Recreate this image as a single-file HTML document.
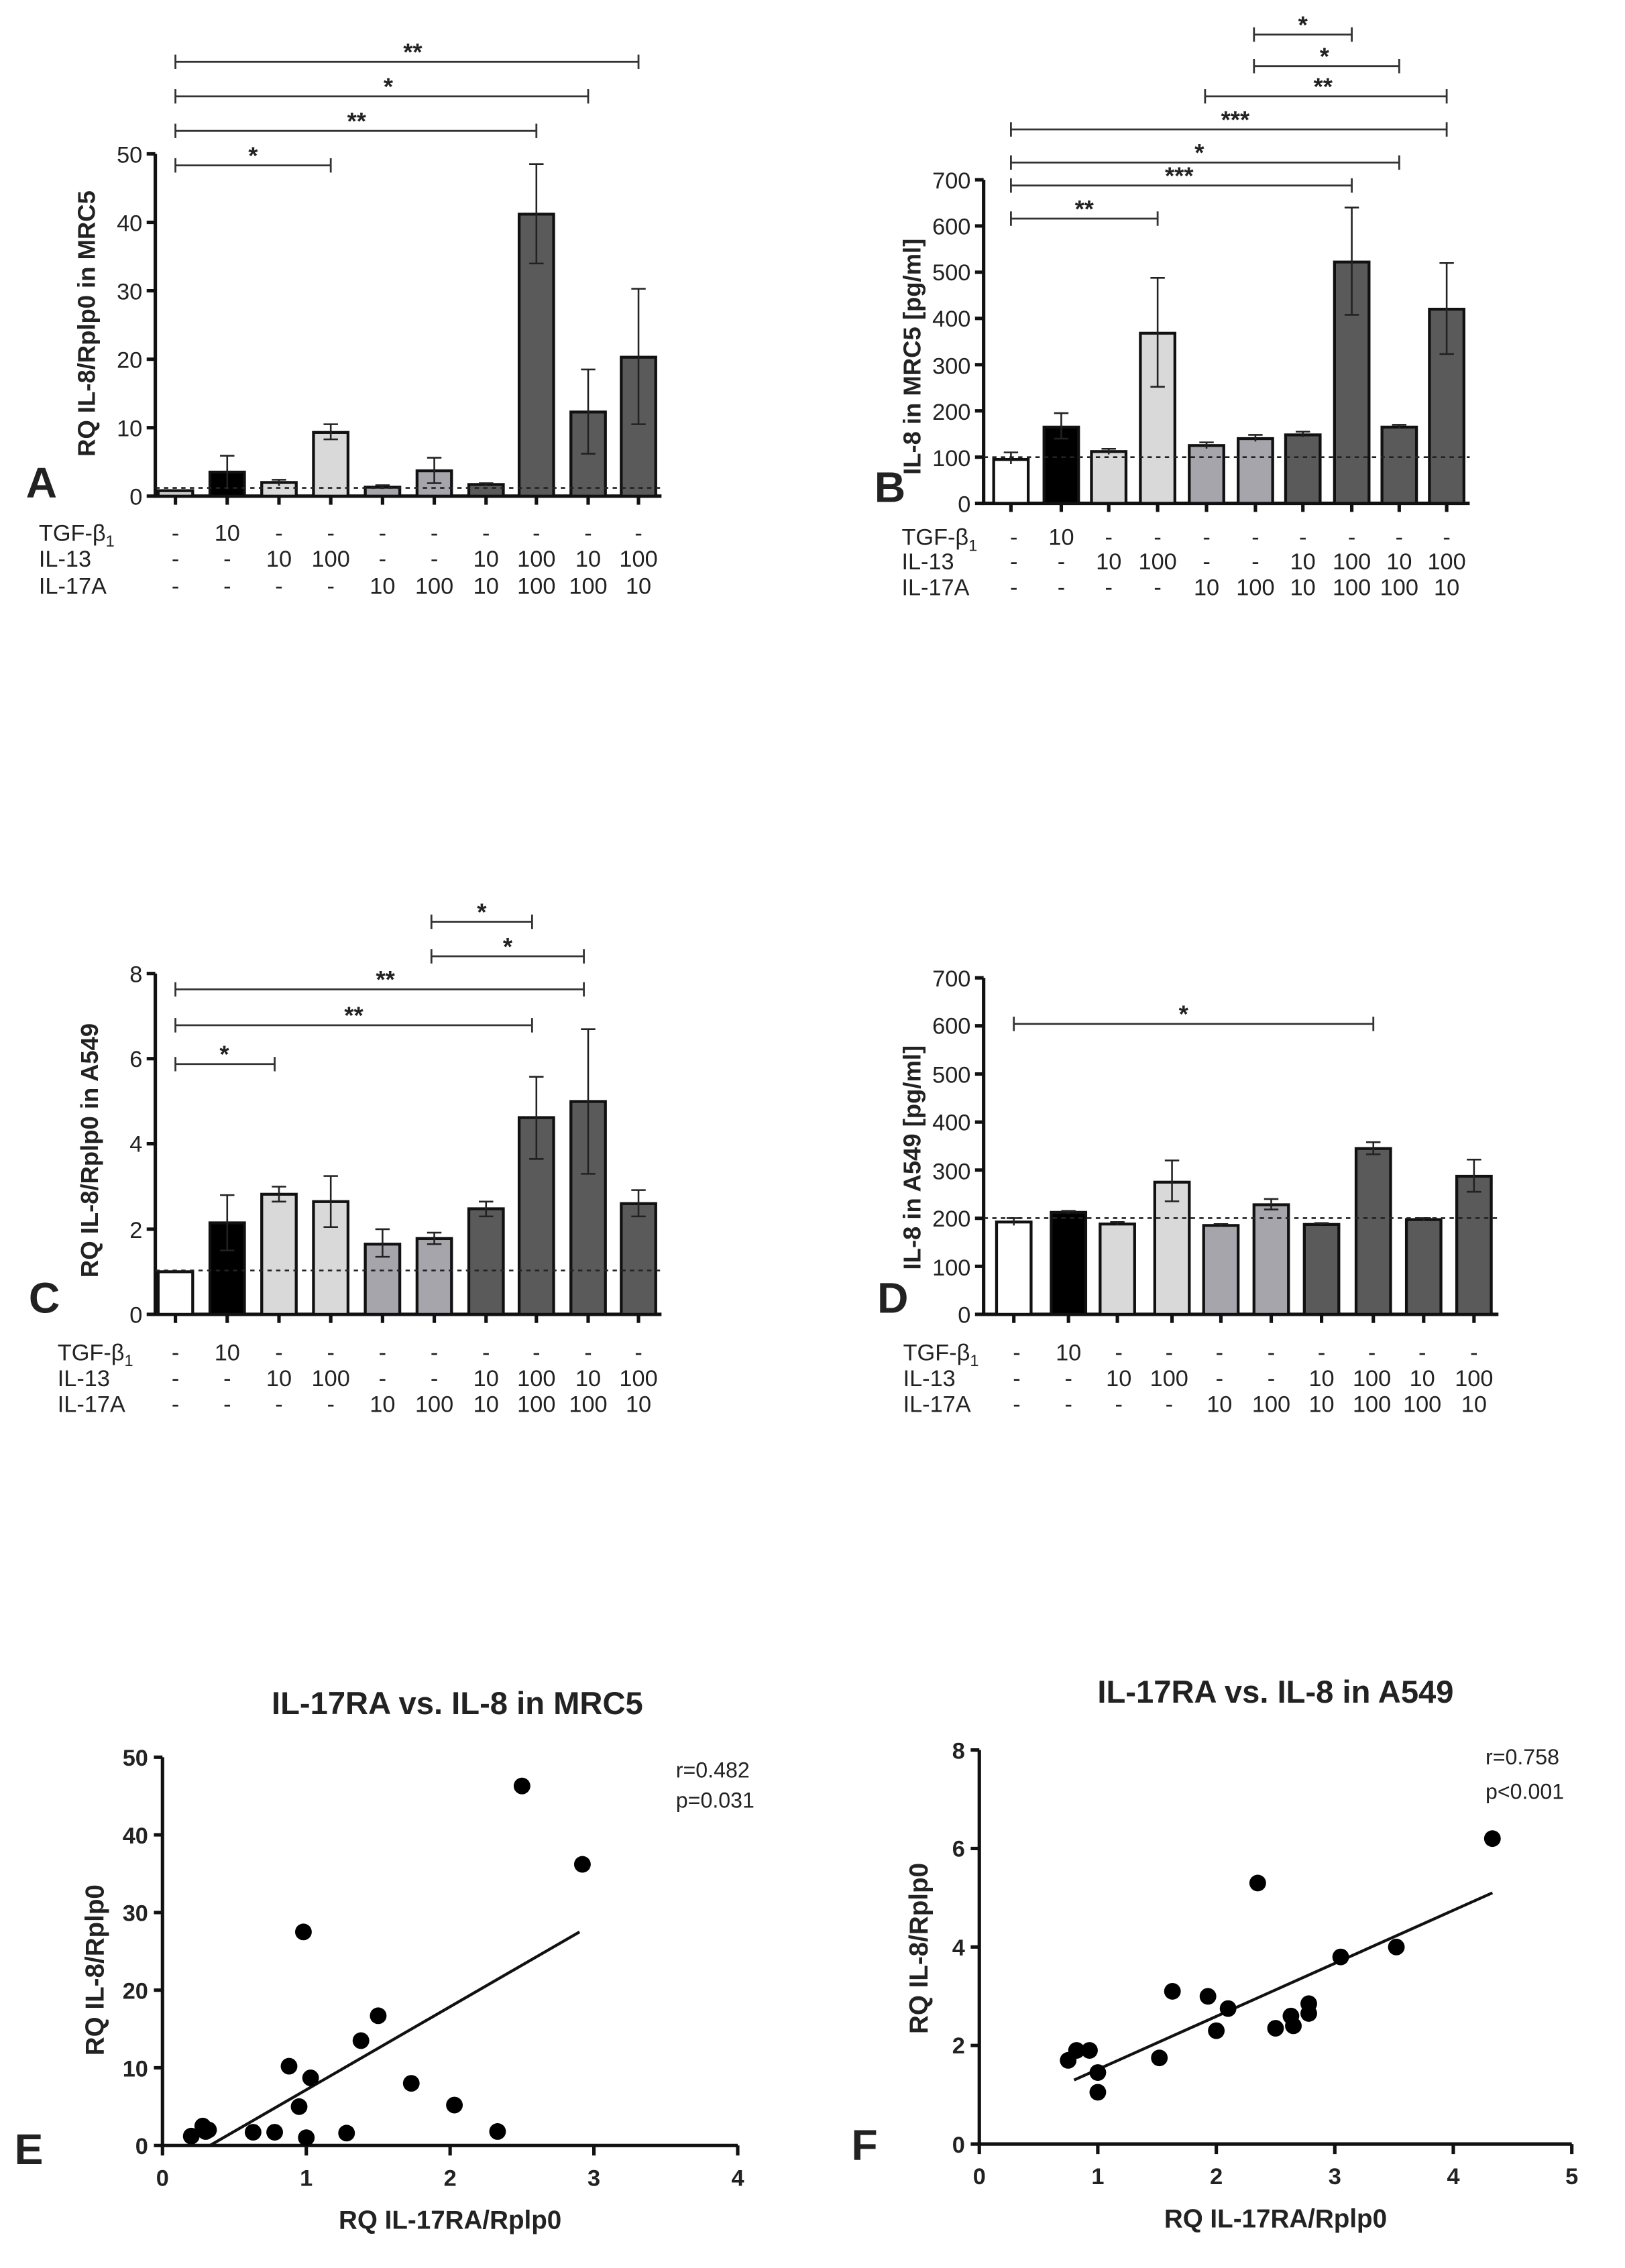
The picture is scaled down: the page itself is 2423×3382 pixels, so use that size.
<!DOCTYPE html>
<html><head><meta charset="utf-8"><style>
html,body{margin:0;padding:0;background:#fff}
svg{display:block}
text{font-family:"Liberation Sans",Arial,sans-serif;fill:#222}
.t{font-size:16px}
.s{font-size:17px;font-weight:bold}
.b{font-weight:bold}
.ax{stroke:#111;stroke-width:2.4;fill:none}
.br{stroke:#111;stroke-width:2;}
.e{stroke:#222;stroke-width:1.2;fill:none}
.sg{stroke:#333;stroke-width:1.3;fill:none}
.d{stroke:#222;stroke-width:1.2;stroke-dasharray:3,3}
.pt{fill:#000}
</style></head><body>
<svg width="2423" height="3382" viewBox="0 0 1130 1577.2" xmlns="http://www.w3.org/2000/svg">
<rect width="1130" height="1578" fill="#fff"/>

<!-- ===== Panel A ===== -->
<g>
<path class="ax" d="M108 107 V345 H460"/>
<path class="ax" d="M102 107H108M102 154.6H108M102 202.2H108M102 249.8H108M102 297.4H108M102 345H108"/>
<g class="t" text-anchor="end"><text x="99" y="113">50</text><text x="99" y="160.6">40</text><text x="99" y="208.2">30</text><text x="99" y="255.8">20</text><text x="99" y="303.4">10</text><text x="99" y="351">0</text></g>
<path class="ax" d="M122 345v6M158 345v6M194 345v6M230 345v6M266 345v6M302 345v6M338 345v6M373 345v6M409 345v6M444 345v6"/>
<text transform="translate(66,225) rotate(-90)" text-anchor="middle" class="b" font-size="17">RQ IL-8/Rplp0 in MRC5</text>
<text x="18" y="346" class="b" font-size="30">A</text>
<rect class="br" x="110" y="341.2" width="24" height="3.8" fill="#ccc"/>
<rect class="br" x="146" y="328.3" width="24" height="16.7" fill="#000"/>
<rect class="br" x="182" y="335.5" width="24" height="9.5" fill="#d9d9d9"/>
<rect class="br" x="218" y="300.7" width="24" height="44.3" fill="#d9d9d9"/>
<rect class="br" x="254" y="338.8" width="24" height="6.2" fill="#a5a5ab"/>
<rect class="br" x="290" y="327.4" width="24" height="17.6" fill="#a5a5ab"/>
<rect class="br" x="326" y="336.9" width="24" height="8.1" fill="#5a5a5a"/>
<rect class="br" x="361" y="148.9" width="24" height="196.1" fill="#5a5a5a"/>
<rect class="br" x="397" y="286.5" width="24" height="58.5" fill="#5a5a5a"/>
<rect class="br" x="432" y="248.4" width="24" height="96.6" fill="#5a5a5a"/>
<path class="e" d="M158 316.9V340.2M153 316.9h10M194 333.6V337.9M189 333.6h10M230 295V305.5M225 295h10M225 305.5h10M266 337.4V340M261 337.4h10M302 318.3V336M297 318.3h10M297 336h10M338 336V338M333 336h10M373 114.1V183.2M368 114.1h10M368 183.2h10M409 256.9V315.5M404 256.9h10M404 315.5h10M444 200.8V295M439 200.8h10M439 295h10"/>
<line class="d" x1="108" y1="339.3" x2="460" y2="339.3"/>
<path class="sg" d="M122 115H230M122 110v10M230 110v10M122 91H373M122 86v10M373 86v10M122 67H409M122 62v10M409 62v10M122 43H444M122 38v10M444 38v10"/>
<g class="s" text-anchor="middle"><text x="176" y="114">*</text><text x="248" y="90">**</text><text x="270" y="66">*</text><text x="287" y="42">**</text></g>
<g class="t"><text x="27" y="376">TGF-β<tspan font-size="11" dy="4">1</tspan></text><text x="27" y="394">IL-13</text><text x="27" y="413">IL-17A</text></g>
<g class="t" text-anchor="middle">
<text x="122" y="376">-</text><text x="158" y="376">10</text><text x="194" y="376">-</text><text x="230" y="376">-</text><text x="266" y="376">-</text><text x="302" y="376">-</text><text x="338" y="376">-</text><text x="373" y="376">-</text><text x="409" y="376">-</text><text x="444" y="376">-</text>
<text x="122" y="394">-</text><text x="158" y="394">-</text><text x="194" y="394">10</text><text x="230" y="394">100</text><text x="266" y="394">-</text><text x="302" y="394">-</text><text x="338" y="394">10</text><text x="373" y="394">100</text><text x="409" y="394">10</text><text x="444" y="394">100</text>
<text x="122" y="413">-</text><text x="158" y="413">-</text><text x="194" y="413">-</text><text x="230" y="413">-</text><text x="266" y="413">10</text><text x="302" y="413">100</text><text x="338" y="413">10</text><text x="373" y="413">100</text><text x="409" y="413">100</text><text x="444" y="413">10</text>
</g>
</g>

<!-- ===== Panel B ===== -->
<g>
<path class="ax" d="M684 125V350H1022"/>
<path class="ax" d="M678 125H684M678 157.1H684M678 189.3H684M678 221.4H684M678 253.6H684M678 285.7H684M678 317.9H684M678 350H684"/>
<g class="t" text-anchor="end"><text x="675" y="131">700</text><text x="675" y="163">600</text><text x="675" y="195">500</text><text x="675" y="227">400</text><text x="675" y="260">300</text><text x="675" y="292">200</text><text x="675" y="324">100</text><text x="675" y="356">0</text></g>
<path class="ax" d="M703 350v6M738 350v6M771 350v6M805 350v6M839 350v6M873 350v6M906 350v6M940 350v6M973 350v6M1006 350v6"/>
<text transform="translate(640,248) rotate(-90)" text-anchor="middle" class="b" font-size="17">IL-8 in MRC5 [pg/ml]</text>
<text x="608" y="349" class="b" font-size="30">B</text>
<rect class="br" x="691" y="319.5" width="24" height="30.5" fill="#fff"/>
<rect class="br" x="726" y="297" width="24" height="53" fill="#000"/>
<rect class="br" x="759" y="314" width="24" height="36" fill="#d9d9d9"/>
<rect class="br" x="793" y="231.7" width="24" height="118.3" fill="#d9d9d9"/>
<rect class="br" x="827" y="309.8" width="24" height="40.2" fill="#a5a5ab"/>
<rect class="br" x="861" y="305" width="24" height="45" fill="#a5a5ab"/>
<rect class="br" x="894" y="302.4" width="24" height="47.6" fill="#5a5a5a"/>
<rect class="br" x="928" y="182.2" width="24" height="167.8" fill="#5a5a5a"/>
<rect class="br" x="961" y="297" width="24" height="53" fill="#5a5a5a"/>
<rect class="br" x="994" y="215" width="24" height="135" fill="#5a5a5a"/>
<path class="e" d="M703 314.6V322.7M698 314.6h10M738 287.3V305M733 287.3h10M733 305h10M771 312.1V316M766 312.1h10M805 193.2V269M800 193.2h10M800 269h10M839 307.6V312M834 307.6h10M873 302.4V307M868 302.4h10M906 300.2V304M901 300.2h10M940 144.3V218.9M935 144.3h10M935 218.9h10M973 295.4V298M968 295.4h10M1006 182.9V246.2M1001 182.9h10M1001 246.2h10"/>
<line class="d" x1="684" y1="317.9" x2="1022" y2="317.9"/>
<path class="sg" d="M703 152H805M703 147v10M805 147v10M703 129H940M703 124v10M940 124v10M703 113H973M703 108v10M973 108v10M703 90H1006M703 85v10M1006 85v10M838 67H1006M838 62v10M1006 62v10M872 46H973M872 41v10M973 41v10M872 24H940M872 19v10M940 19v10"/>
<g class="s" text-anchor="middle"><text x="754" y="151">**</text><text x="820" y="128">***</text><text x="834" y="112">*</text><text x="859" y="89">***</text><text x="920" y="66">**</text><text x="921" y="45">*</text><text x="906" y="23">*</text></g>
<g class="t"><text x="627" y="379">TGF-β<tspan font-size="11" dy="4">1</tspan></text><text x="627" y="396">IL-13</text><text x="627" y="414">IL-17A</text></g>
<g class="t" text-anchor="middle">
<text x="705" y="379">-</text><text x="738" y="379">10</text><text x="771" y="379">-</text><text x="805" y="379">-</text><text x="839" y="379">-</text><text x="873" y="379">-</text><text x="906" y="379">-</text><text x="940" y="379">-</text><text x="973" y="379">-</text><text x="1006" y="379">-</text>
<text x="705" y="396">-</text><text x="738" y="396">-</text><text x="771" y="396">10</text><text x="805" y="396">100</text><text x="839" y="396">-</text><text x="873" y="396">-</text><text x="906" y="396">10</text><text x="940" y="396">100</text><text x="973" y="396">10</text><text x="1006" y="396">100</text>
<text x="705" y="414">-</text><text x="738" y="414">-</text><text x="771" y="414">-</text><text x="805" y="414">-</text><text x="839" y="414">10</text><text x="873" y="414">100</text><text x="906" y="414">10</text><text x="940" y="414">100</text><text x="973" y="414">100</text><text x="1006" y="414">10</text>
</g>
</g>

<!-- ===== Panel C ===== -->
<g>
<path class="ax" d="M108 677V914H460"/>
<path class="ax" d="M102 677H108M102 736.2H108M102 795.4H108M102 854.8H108M102 914H108"/>
<g class="t" text-anchor="end"><text x="99" y="683">8</text><text x="99" y="742">6</text><text x="99" y="801">4</text><text x="99" y="861">2</text><text x="99" y="920">0</text></g>
<path class="ax" d="M122 914v6M158 914v6M194 914v6M230 914v6M266 914v6M302 914v6M338 914v6M373 914v6M409 914v6M444 914v6"/>
<text transform="translate(68,800) rotate(-90)" text-anchor="middle" class="b" font-size="17">RQ IL-8/Rplp0 in A549</text>
<text x="20" y="913" class="b" font-size="30">C</text>
<rect class="br" x="110" y="884.4" width="24" height="29.6" fill="#fff"/>
<rect class="br" x="146" y="850.4" width="24" height="63.6" fill="#000"/>
<rect class="br" x="182" y="830.5" width="24" height="83.5" fill="#d9d9d9"/>
<rect class="br" x="218" y="835.6" width="24" height="78.4" fill="#d9d9d9"/>
<rect class="br" x="254" y="865.2" width="24" height="48.8" fill="#a5a5ab"/>
<rect class="br" x="290" y="861.3" width="24" height="52.7" fill="#a5a5ab"/>
<rect class="br" x="326" y="840.6" width="24" height="73.4" fill="#5a5a5a"/>
<rect class="br" x="361" y="777.2" width="24" height="136.8" fill="#5a5a5a"/>
<rect class="br" x="397" y="766" width="24" height="148" fill="#5a5a5a"/>
<rect class="br" x="432" y="837" width="24" height="77" fill="#5a5a5a"/>
<path class="e" d="M158 831.1V869.6M153 831.1h10M153 869.6h10M194 825.2V835.6M189 825.2h10M189 835.6h10M230 817.8V853.3M225 817.8h10M225 853.3h10M266 854.8V874M261 854.8h10M261 874h10M302 857.2V865.2M297 857.2h10M297 865.2h10M338 835.6V845.9M333 835.6h10M333 845.9h10M373 748.8V806M368 748.8h10M368 806h10M409 715.7V816.3M404 715.7h10M404 816.3h10M444 827.6V845.9M439 827.6h10M439 845.9h10"/>
<line class="d" x1="108" y1="883.5" x2="460" y2="883.5"/>
<path class="sg" d="M122 740H191M122 735v10M191 735v10M122 713H370M122 708v10M370 708v10M122 688H406M122 683v10M406 683v10M300 665H406M300 660v10M406 660v10M300 641H370M300 636v10M370 636v10"/>
<g class="s" text-anchor="middle"><text x="156" y="739">*</text><text x="246" y="712">**</text><text x="268" y="687">**</text><text x="353" y="664">*</text><text x="335" y="640">*</text></g>
<g class="t"><text x="40" y="946">TGF-β<tspan font-size="11" dy="4">1</tspan></text><text x="40" y="964">IL-13</text><text x="40" y="982">IL-17A</text></g>
<g class="t" text-anchor="middle">
<text x="122" y="946">-</text><text x="158" y="946">10</text><text x="194" y="946">-</text><text x="230" y="946">-</text><text x="266" y="946">-</text><text x="302" y="946">-</text><text x="338" y="946">-</text><text x="373" y="946">-</text><text x="409" y="946">-</text><text x="444" y="946">-</text>
<text x="122" y="964">-</text><text x="158" y="964">-</text><text x="194" y="964">10</text><text x="230" y="964">100</text><text x="266" y="964">-</text><text x="302" y="964">-</text><text x="338" y="964">10</text><text x="373" y="964">100</text><text x="409" y="964">10</text><text x="444" y="964">100</text>
<text x="122" y="982">-</text><text x="158" y="982">-</text><text x="194" y="982">-</text><text x="230" y="982">-</text><text x="266" y="982">10</text><text x="302" y="982">100</text><text x="338" y="982">10</text><text x="373" y="982">100</text><text x="409" y="982">100</text><text x="444" y="982">10</text>
</g>
</g>

<!-- ===== Panel D ===== -->
<g>
<path class="ax" d="M684 680V914H1042"/>
<path class="ax" d="M678 680H684M678 713.4H684M678 746.9H684M678 780.3H684M678 813.7H684M678 847.2H684M678 880.6H684M678 914H684"/>
<g class="t" text-anchor="end"><text x="675" y="686">700</text><text x="675" y="719">600</text><text x="675" y="753">500</text><text x="675" y="786">400</text><text x="675" y="820">300</text><text x="675" y="853">200</text><text x="675" y="887">100</text><text x="675" y="920">0</text></g>
<path class="ax" d="M705 914v6M743 914v6M777 914v6M815 914v6M849 914v6M884 914v6M919 914v6M955 914v6M990 914v6M1025 914v6"/>
<text transform="translate(640,805) rotate(-90)" text-anchor="middle" class="b" font-size="17">IL-8 in A549 [pg/ml]</text>
<text x="610" y="913" class="b" font-size="30">D</text>
<rect class="br" x="693" y="849.8" width="24" height="64.2" fill="#fff"/>
<rect class="br" x="731" y="843.1" width="24" height="70.9" fill="#000"/>
<rect class="br" x="765" y="851.2" width="24" height="62.8" fill="#d9d9d9"/>
<rect class="br" x="803" y="822.1" width="24" height="91.9" fill="#d9d9d9"/>
<rect class="br" x="837" y="852.2" width="24" height="61.8" fill="#a5a5ab"/>
<rect class="br" x="872" y="837.8" width="24" height="76.2" fill="#a5a5ab"/>
<rect class="br" x="907" y="851.5" width="24" height="62.5" fill="#5a5a5a"/>
<rect class="br" x="943" y="798.7" width="24" height="115.3" fill="#5a5a5a"/>
<rect class="br" x="978" y="848.1" width="24" height="65.9" fill="#5a5a5a"/>
<rect class="br" x="1013" y="818" width="24" height="96" fill="#5a5a5a"/>
<path class="e" d="M705 847.1V852.2M700 847.1h10M743 842.1V844M738 842.1h10M777 849.8V852M772 849.8h10M815 807V835.4M810 807h10M810 835.4h10M849 851.2V853M844 851.2h10M884 833.8V841.1M879 833.8h10M879 841.1h10M919 850.5V852M914 850.5h10M955 794.3V802.7M950 794.3h10M950 802.7h10M990 847.1V849M985 847.1h10M1025 806.4V828.8M1020 806.4h10M1020 828.8h10"/>
<line class="d" x1="684" y1="847.1" x2="1042" y2="847.1"/>
<path class="sg" d="M705 712H955M705 707v10M955 707v10"/>
<text x="823" y="711" class="s" text-anchor="middle">*</text>
<g class="t"><text x="628" y="946">TGF-β<tspan font-size="11" dy="4">1</tspan></text><text x="628" y="964">IL-13</text><text x="628" y="982">IL-17A</text></g>
<g class="t" text-anchor="middle">
<text x="707" y="946">-</text><text x="743" y="946">10</text><text x="778" y="946">-</text><text x="813" y="946">-</text><text x="848" y="946">-</text><text x="884" y="946">-</text><text x="919" y="946">-</text><text x="954" y="946">-</text><text x="989" y="946">-</text><text x="1025" y="946">-</text>
<text x="707" y="964">-</text><text x="743" y="964">-</text><text x="778" y="964">10</text><text x="813" y="964">100</text><text x="848" y="964">-</text><text x="884" y="964">-</text><text x="919" y="964">10</text><text x="954" y="964">100</text><text x="989" y="964">10</text><text x="1025" y="964">100</text>
<text x="707" y="982">-</text><text x="743" y="982">-</text><text x="778" y="982">-</text><text x="813" y="982">-</text><text x="848" y="982">10</text><text x="884" y="982">100</text><text x="919" y="982">10</text><text x="954" y="982">100</text><text x="989" y="982">100</text><text x="1025" y="982">10</text>
</g>
</g>

<!-- ===== Panel E ===== -->
<g>
<text x="318" y="1192" text-anchor="middle" class="b" font-size="22">IL-17RA vs. IL-8 in MRC5</text>
<path class="ax" d="M113 1222V1492H513"/>
<path class="ax" d="M107 1222H113M107 1276H113M107 1330H113M107 1384H113M107 1438H113M107 1492H113M113 1492v7M213 1492v7M313 1492v7M413 1492v7M513 1492v7"/>
<g class="b" font-size="16" text-anchor="end"><text x="103" y="1228">50</text><text x="103" y="1282">40</text><text x="103" y="1336">30</text><text x="103" y="1390">20</text><text x="103" y="1444">10</text><text x="103" y="1498">0</text></g>
<g class="b" font-size="16" text-anchor="middle"><text x="113" y="1520">0</text><text x="213" y="1520">1</text><text x="313" y="1520">2</text><text x="413" y="1520">3</text><text x="513" y="1520">4</text></g>
<text x="313" y="1550" text-anchor="middle" class="b" font-size="18">RQ IL-17RA/Rplp0</text>
<text transform="translate(72,1370) rotate(-90)" text-anchor="middle" class="b" font-size="18">RQ IL-8/Rplp0</text>
<text x="10" y="1505" class="b" font-size="30">E</text>
<text x="470" y="1236" font-size="15">r=0.482</text><text x="470" y="1257" font-size="15">p=0.031</text>
<line x1="146" y1="1492" x2="403" y2="1343.5" stroke="#111" stroke-width="2"/>
<g class="pt">
<circle cx="133" cy="1485.5" r="5.8"/><circle cx="141" cy="1478.5" r="5.8"/><circle cx="143" cy="1482.3" r="5.8"/><circle cx="145" cy="1481.2" r="5.8"/><circle cx="176" cy="1482.8" r="5.8"/><circle cx="191" cy="1482.8" r="5.8"/><circle cx="201" cy="1436.9" r="5.8"/><circle cx="208" cy="1465" r="5.8"/><circle cx="211" cy="1343.5" r="5.8"/><circle cx="213" cy="1486.6" r="5.8"/><circle cx="216" cy="1445" r="5.8"/><circle cx="241" cy="1483.4" r="5.8"/><circle cx="251" cy="1419.1" r="5.8"/><circle cx="263" cy="1401.8" r="5.8"/><circle cx="286" cy="1448.8" r="5.8"/><circle cx="316" cy="1463.9" r="5.8"/><circle cx="346" cy="1482.3" r="5.8"/><circle cx="363" cy="1242" r="5.8"/><circle cx="405" cy="1296.5" r="5.8"/>
</g>
</g>

<!-- ===== Panel F ===== -->
<g>
<text x="887" y="1184" text-anchor="middle" class="b" font-size="22">IL-17RA vs. IL-8 in A549</text>
<path class="ax" d="M681 1217V1491H1093"/>
<path class="ax" d="M675 1217H681M675 1285.5H681M675 1354H681M675 1422.5H681M675 1491H681M681 1491v7M763.4 1491v7M845.8 1491v7M928.2 1491v7M1010.6 1491v7M1093 1491v7"/>
<g class="b" font-size="16" text-anchor="end"><text x="671" y="1223">8</text><text x="671" y="1291">6</text><text x="671" y="1360">4</text><text x="671" y="1428">2</text><text x="671" y="1497">0</text></g>
<g class="b" font-size="16" text-anchor="middle"><text x="681" y="1519">0</text><text x="763.4" y="1519">1</text><text x="845.8" y="1519">2</text><text x="928.2" y="1519">3</text><text x="1010.6" y="1519">4</text><text x="1093" y="1519">5</text></g>
<text x="887" y="1549" text-anchor="middle" class="b" font-size="18">RQ IL-17RA/Rplp0</text>
<text transform="translate(645,1355) rotate(-90)" text-anchor="middle" class="b" font-size="18">RQ IL-8/Rplp0</text>
<text x="592" y="1502" class="b" font-size="30">F</text>
<text x="1033" y="1227" font-size="15">r=0.758</text><text x="1033" y="1251" font-size="15">p&lt;0.001</text>
<line x1="746.9" y1="1446.5" x2="1037.8" y2="1316.3" stroke="#111" stroke-width="2"/>
<g class="pt">
<circle cx="742.8" cy="1432.8" r="5.8"/><circle cx="748.6" cy="1425.9" r="5.8"/><circle cx="757.6" cy="1425.9" r="5.8"/><circle cx="763.4" cy="1441.3" r="5.8"/><circle cx="763.4" cy="1455" r="5.8"/><circle cx="806.2" cy="1431.1" r="5.8"/><circle cx="815.3" cy="1384.8" r="5.8"/><circle cx="840" cy="1388.3" r="5.8"/><circle cx="845.8" cy="1412.2" r="5.8"/><circle cx="854" cy="1396.8" r="5.8"/><circle cx="874.6" cy="1309.5" r="5.8"/><circle cx="887" cy="1410.5" r="5.8"/><circle cx="897.7" cy="1402" r="5.8"/><circle cx="899.4" cy="1408.8" r="5.8"/><circle cx="910.1" cy="1400.2" r="5.8"/><circle cx="910.1" cy="1393.4" r="5.8"/><circle cx="932.3" cy="1360.9" r="5.8"/><circle cx="971" cy="1354" r="5.8"/><circle cx="1037.8" cy="1278.6" r="5.8"/>
</g>
</g>
</svg>
</body></html>
